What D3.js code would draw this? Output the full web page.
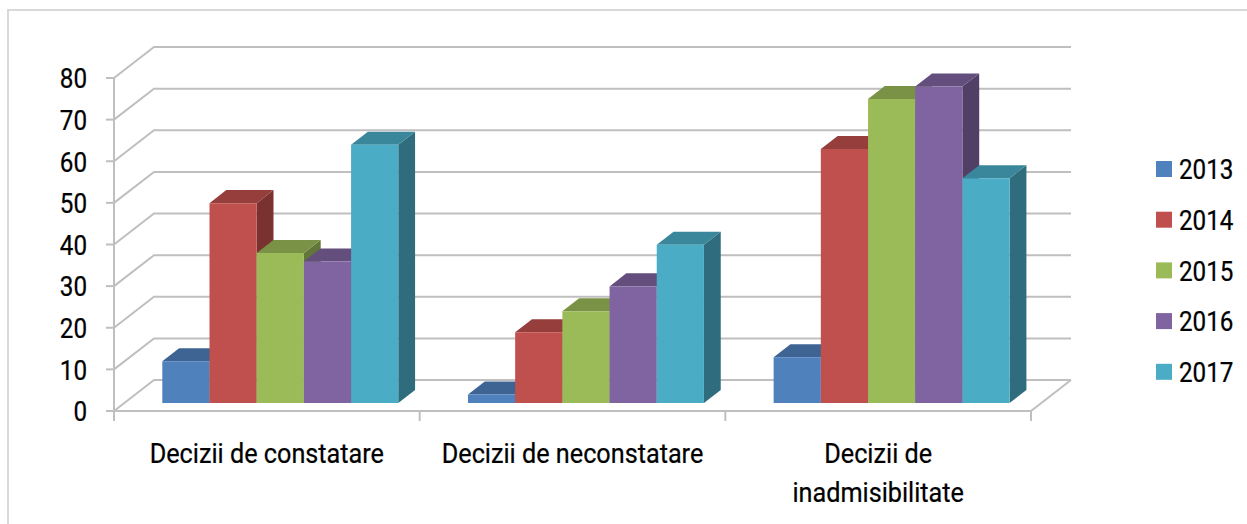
<!DOCTYPE html>
<html>
<head>
<meta charset="utf-8">
<script src="https://cdn.jsdelivr.net/npm/d3@7/dist/d3.min.js"></script>
<style>
  body { margin: 0; background: #fff; }
  text { font-family: Roboto, "Liberation Sans", sans-serif; fill: #000; stroke: #000; stroke-width: 0.25; }
</style>
</head>
<body>
<svg id="chart" width="1247" height="524"></svg>
<script>
// chart data
const categories = ["Decizii de constatare", "Decizii de neconstatare", "Decizii de inadmisibilitate"];
const categoryLines = [["Decizii de constatare"], ["Decizii de neconstatare"], ["Decizii de", "inadmisibilitate"]];
const years = ["2013", "2014", "2015", "2016", "2017"];
const values2013 = [10, 2, 11];
const values2014 = [48, 17, 61];
const values2015 = [36, 22, 73];
const values2016 = [34, 28, 76];
const values2017 = [62, 38, 54];
const yTicks = [0, 10, 20, 30, 40, 50, 60, 70, 80];
const colors = ["#4F81BD", "#C0504D", "#9BBB59", "#8064A2", "#4BACC6"];

const seriesValues = [values2013, values2014, values2015, values2016, values2017];

const svg = d3.select("#chart");
const gridColor = "#bfbfbf";
const fontSize = 28.5;
const condenseDigits = 0.85;   // fake a condensed face
const condenseLabels = 0.885;

// 3d projection: depth vector for t in [0,1]
const depthX = 40, depthY = -31;
const barFront = 0.26, barBack = 0.68;

const x0 = d3.scaleBand().domain(categories).range([114, 1031]).paddingInner(0).paddingOuter(0);
const bw = x0.bandwidth();
const x1 = d3.scaleBand().domain(years).range([bw * 0.124, bw * 0.896]);
const y = d3.scaleLinear().domain([0, 80]).range([411, 78]);

const proj = (px, v, t) => [px + depthX * t, y(v) + depthY * t];
const pts = arr => arr.map(p => p.join(",")).join(" ");

// outer border
svg.append("path")
  .attr("d", "M8,524 V10 H1247")
  .attr("fill", "none")
  .attr("stroke", "#d9d9d9")
  .attr("stroke-width", 2);

const grid = svg.append("g")
  .attr("fill", "none")
  .attr("stroke", gridColor)
  .attr("stroke-width", 2);

const xL = x0.range()[0], xR = x0.range()[1];

// back wall + side wall gridlines
yTicks.forEach(v => {
  grid.append("polyline").attr("points", pts([proj(xL, v, 0), proj(xL, v, 1), proj(xR, v, 1)]));
});

// floor front + right edges
grid.append("polyline").attr("points", pts([proj(xL, 0, 0), proj(xR, 0, 0), proj(xR, 0, 1)]));

// y axis line + ticks
grid.append("line").attr("x1", xL).attr("x2", xL).attr("y1", y(0)).attr("y2", y(80));
yTicks.forEach(v => {
  grid.append("line").attr("x1", xL - 8).attr("x2", xL).attr("y1", y(v)).attr("y2", y(v));
});

// category ticks
const catEdges = categories.map(c => x0(c)).concat([xR]);
catEdges.forEach(px => {
  grid.append("line").attr("x1", px).attr("x2", px).attr("y1", y(0)).attr("y2", y(0) + 10);
});

// y labels
yTicks.forEach(v => {
  svg.append("g")
    .attr("transform", `translate(87,${y(v)}) scale(${condenseDigits},1)`)
    .append("text")
    .attr("text-anchor", "end")
    .attr("dy", "0.36em")
    .attr("font-size", fontSize)
    .text(v);
});

// bars, drawn left to right so later faces cover earlier sides
const bars = svg.append("g");
categories.forEach((cat, ci) => {
  years.forEach((yr, si) => {
    const v = seriesValues[si][ci];
    const left = x0(cat) + x1(yr);
    const right = left + x1.bandwidth();
    const base = d3.color(colors[si]);
    const topCol = base.darker(0.7);
    const sideCol = base.darker(1.3);

    const fTL = proj(left, v, barFront), fTR = proj(right, v, barFront);
    const fBR = proj(right, 0, barFront), fBL = proj(left, 0, barFront);
    const bTL = proj(left, v, barBack), bTR = proj(right, v, barBack);
    const bBR = proj(right, 0, barBack);

    bars.append("polygon").attr("points", pts([fTR, bTR, bBR, fBR])).attr("fill", sideCol);
    bars.append("polygon").attr("points", pts([fTL, fTR, bTR, bTL])).attr("fill", topCol);
    bars.append("polygon").attr("points", pts([fTL, fTR, fBR, fBL])).attr("fill", base);
  });
});

// category labels
categories.forEach((cat, ci) => {
  const cx = x0(cat) + bw / 2;
  categoryLines[ci].forEach((line, li) => {
    svg.append("g")
      .attr("transform", `translate(${cx},${463 + li * 39}) scale(${condenseLabels},1)`)
      .append("text")
      .attr("text-anchor", "middle")
      .attr("font-size", fontSize)
      .text(line);
  });
});

// legend
const legend = svg.append("g");
years.forEach((yr, i) => {
  const cy = 169 + i * 50.7;
  legend.append("rect")
    .attr("x", 1156).attr("y", cy - 8)
    .attr("width", 16).attr("height", 16)
    .attr("fill", colors[i]);
  legend.append("g")
    .attr("transform", `translate(1179,${cy}) scale(${condenseDigits},1)`)
    .append("text")
    .attr("dy", "0.36em")
    .attr("font-size", fontSize)
    .text(yr);
});
</script>
</body>
</html>
